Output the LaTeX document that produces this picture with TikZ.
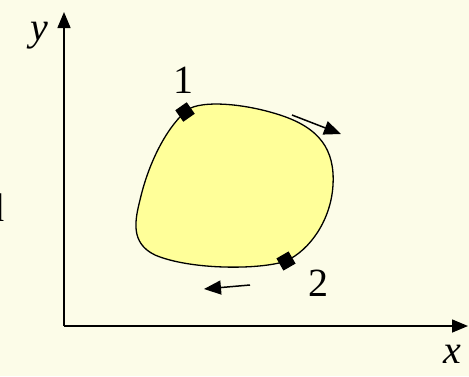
\documentclass[tikz,border=0pt]{standalone}
\usepackage{fontspec}
\setmainfont{Liberation Serif}
\usetikzlibrary{arrows.meta}
\definecolor{bgc}{RGB}{252,252,232}
\definecolor{blobc}{RGB}{255,255,153}
\begin{document}
\begin{tikzpicture}[x=1pt,y=-1pt,
  axis/.style={line width=1.5pt,-{Triangle[length=16pt,width=13pt]}},
  flow/.style={line width=1.5pt,-{Triangle[length=17pt,width=14pt]}},
  marker/.style={fill=black,minimum size=14pt,inner sep=0pt},
  lab/.style={font=\fontsize{40}{40}\selectfont}]
\fill[bgc] (0,0) rectangle (469,376);
\useasboundingbox (0,0) rectangle (469,376);
\coordinate (O) at (64,326);
\coordinate (Y) at (64,12);
\coordinate (X) at (468,326);
\draw[axis] (O) -- (Y);
\draw[axis] (O) -- (X);
\node[lab,font=\fontsize{40}{40}\selectfont\itshape] (ylab) at (39,36) {y};
\node[lab,font=\fontsize{40}{40}\selectfont\itshape] (xlab) at (452,354) {x};
\begin{scope}
\clip (0,0) rectangle (469,376);
\node[lab,anchor=east,inner sep=0pt] (cut) at (5,208) {d};
\end{scope}
\draw[fill=blobc,line width=1.3pt]
  (185,112) .. controls (195,100) and (240,102) .. (280,115)
  .. controls (320,128) and (335,150) .. (333,185)
  .. controls (331,220) and (310,250) .. (286,261)
  .. controls (260,270) and (190,270) .. (155,255)
  .. controls (130,243) and (135,220) .. (140,200)
  .. controls (148,165) and (165,130) .. (185,112) -- cycle;
\node[marker,rotate=35] (m1) at (185,112) {};
\node[marker,rotate=30] (m2) at (286,261) {};
\node[lab] (l1) at (183,80) {1};
\node[lab] (l2) at (318,283) {2};
\coordinate (a1s) at (292,115);
\coordinate (a1e) at (341,134);
\coordinate (a2s) at (250,285);
\coordinate (a2e) at (204,289);
\draw[flow] (a1s) -- (a1e);
\draw[flow] (a2s) -- (a2e);
\end{tikzpicture}
\end{document}
